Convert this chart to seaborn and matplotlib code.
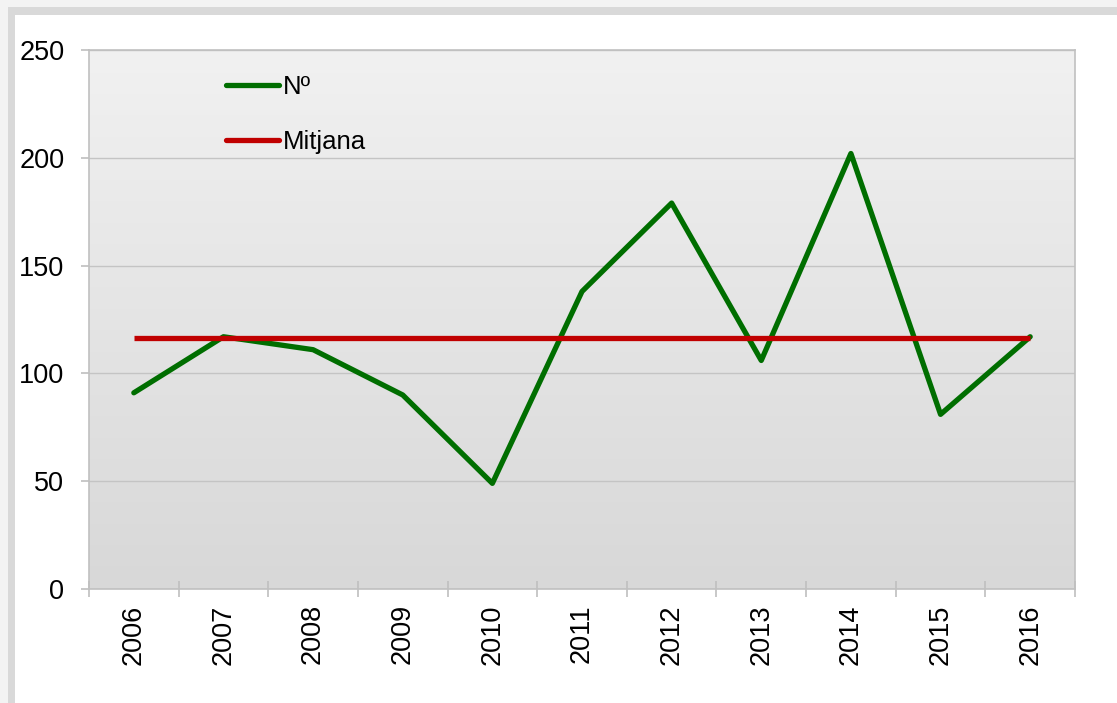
import matplotlib
matplotlib.use("Agg")
import matplotlib.pyplot as plt
from matplotlib.patches import Rectangle
import numpy as np
import pandas as pd
import seaborn as sns

years = ["2006", "2007", "2008", "2009", "2010", "2011", "2012", "2013", "2014", "2015", "2016"]
num = [91, 117, 111, 90, 49, 138, 179, 106, 202, 81, 117]
mitjana = [116.45] * len(years)

df = pd.DataFrame({"pos": np.arange(len(years)), "N": num, "Mitjana": mitjana})

sns.set_style("white")
plt.rcParams["font.family"] = ["Liberation Sans", "DejaVu Sans"]

fig = plt.figure(figsize=(11.17, 7.03), dpi=100)
fig.patch.set_facecolor("#f3f3f3")

# card with shadow edges
fig.patches.append(Rectangle((8 / 1117, 0), 1, 1 - 7 / 703, transform=fig.transFigure,
                             facecolor="#d9d9d9", edgecolor="none", zorder=-2))
fig.patches.append(Rectangle((15 / 1117, 0), 1, 1 - 15 / 703, transform=fig.transFigure,
                             facecolor="white", edgecolor="none", zorder=-1))

ax = fig.add_axes([89 / 1117, 1 - 589 / 703, (1075 - 89) / 1117, (589 - 50) / 703])

# gradient plot area
grad = np.linspace(0, 1, 256).reshape(-1, 1)
ax.imshow(grad, cmap=matplotlib.colors.LinearSegmentedColormap.from_list("g", ["#f1f1f1", "#d8d8d8"]),
          aspect="auto", extent=[-0.5, 10.5, 0, 250], origin="upper", zorder=0)

sns.lineplot(data=df, x="pos", y="N", color="#006e00", lw=3.8, ax=ax, label="N\u00ba", zorder=3,
             solid_joinstyle="round", solid_capstyle="round")
sns.lineplot(data=df, x="pos", y="Mitjana", color="#c00000", lw=3.8, ax=ax, label="Mitjana", zorder=3,
             solid_capstyle="butt")

ax.set_xlim(-0.5, 10.5)
ax.set_ylim(0, 250)
ax.set_yticks(range(0, 251, 50))
ax.set_xticks(np.arange(len(years)))
ax.set_xticklabels(years, rotation=90, fontsize=19.5, color="black")
ax.set_xticks(np.arange(-0.5, 11, 1), minor=True)
ax.tick_params(bottom=True, left=True, which="both")
ax.tick_params(axis="x", which="major", length=0, pad=11)
ax.tick_params(axis="x", which="minor", length=11.5, width=1.2, color="#bfbfbf", direction="inout")
ax.tick_params(axis="y", labelsize=19.5, labelcolor="black", length=5.8, width=1.2, color="#bfbfbf", pad=12)
ax.grid(axis="y", color="#c4c4c4", lw=1)
ax.set_axisbelow(True)
ax.set_xlabel("")
ax.set_ylabel("")
for s in ax.spines.values():
    s.set_color("#c0c0c0")
    s.set_linewidth(1.2)

leg = ax.legend(loc="upper left", bbox_to_anchor=(0.115, 0.997), frameon=False, fontsize=18.5,
                handlelength=2.1, handletextpad=0.15, labelspacing=1.2)
for t in leg.get_texts():
    t.set_color("black")
for h in leg.get_lines():
    h.set_solid_capstyle("round")

fig.savefig("out.png", dpi=100, facecolor=fig.get_facecolor())
